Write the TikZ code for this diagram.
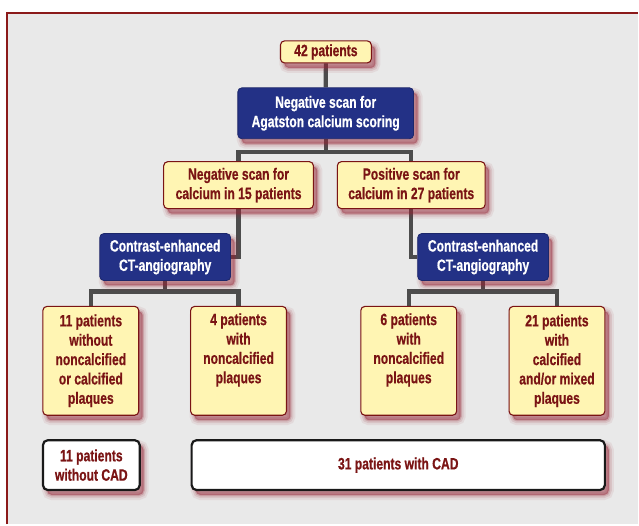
\documentclass[tikz,border=0pt]{standalone}
\usepackage{fontspec}
\setmainfont[FakeStretch=0.74, BoldFeatures={FakeBold=0.6}]{Liberation Sans}
\usetikzlibrary{shadows,calc}
\definecolor{bgc}{HTML}{E9E9E9}
\definecolor{framec}{HTML}{8B1A1A}
\definecolor{ylw}{HTML}{FFF5B3}
\definecolor{txtred}{HTML}{7A1414}
\definecolor{navy}{HTML}{233186}
\definecolor{conc}{HTML}{4C4C4C}
\definecolor{shc}{HTML}{952535}
\pgfdeclarelayer{bottom}
\pgfdeclarelayer{background}
\pgfsetlayers{bottom,background,main}
\tikzset{
  shd/.style={
    general shadow={shadow xshift=4pt, shadow yshift=-5pt, draw=shc, fill=none, line width=10pt, draw opacity=0.08},
    general shadow={shadow xshift=4pt, shadow yshift=-5pt, draw=shc, fill=none, line width=6pt, draw opacity=0.12},
    general shadow={shadow xshift=4pt, shadow yshift=-5pt, draw=shc, line width=2.5pt, draw opacity=0.2, fill=shc, fill opacity=0.45}
  },
  boxtext/.style={font=\fontsize{16.4}{19.4}\selectfont\bfseries, align=center, inner sep=0pt},
  ybox/.style={boxtext, shd, rounded corners=4pt, draw=txtred, line width=1.1pt, fill=ylw, text=txtred},
  bbox/.style={boxtext, shd, rounded corners=4pt, draw=navy!80!black, line width=0.8pt, fill=navy, text=white},
  wbox/.style={boxtext, shd, rounded corners=5pt, draw=black!90, line width=2.2pt, fill=white, text=txtred},
  leaf/.style={ybox, minimum width=96pt, minimum height=109pt},
  conn/.style={draw=conc, line width=4.2pt}
}
\begin{document}
\begin{tikzpicture}[x=1pt,y=-1pt]
\begin{pgfonlayer}{bottom}
  \fill[white] (0,0) rectangle (639,525);
  \fill[bgc] (7,13) rectangle (639,525);
  \draw[framec, line width=2.4pt] (7,525) -- (7,13) -- (639,13);
\end{pgfonlayer}
\useasboundingbox (0,0) rectangle (639,525);

\node[ybox, minimum width=91pt, minimum height=22pt] (n42) at (326.5,52) {42 patients};
\node[bbox, minimum width=176pt, minimum height=51pt] (scan) at (326.3,113.5) {Negative scan for\\Agatston calcium scoring};
\node[ybox, minimum width=150pt, minimum height=47pt] (neg) at (239,185.5) {Negative scan for\\calcium in 15 patients};
\node[ybox, minimum width=148pt, minimum height=47pt] (pos) at (412,185.5) {Positive scan for\\calcium in 27 patients};
\node[bbox, minimum width=131pt, minimum height=47pt] (ctL) at (165.5,257.5) {Contrast-enhanced\\CT-angiography};
\node[bbox, minimum width=131pt, minimum height=47pt] (ctR) at (484,257.5) {Contrast-enhanced\\CT-angiography};
\node[leaf] (L1) at (91,361.5) {11 patients\\without\\noncalcified\\or calcified\\plaques};
\node[leaf] (L2) at (239,361.5) {4 patients\\with\\noncalcified\\plaques\\\strut};
\node[leaf] (R1) at (409.5,361.5) {6 patients\\with\\noncalcified\\plaques\\\strut};
\node[leaf] (R2) at (558,361.5) {21 patients\\with\\calcified\\and/or mixed\\plaques};
\node[wbox, minimum width=97pt, minimum height=50pt] (B1) at (91.5,466) {11 patients\\without CAD};
\node[wbox, minimum width=414pt, minimum height=50pt] (B2) at (399,466) {31 patients with CAD};

\coordinate (j1) at (326.3,152);
\coordinate (j2) at (165.5,292);
\coordinate (j3) at (484,292);

\begin{pgfonlayer}{background}
  \draw[conn] (n42.south) -- (scan.north);
  \draw[conn] (scan.south) -- (j1);
  \draw[conn] (neg.north) |- (j1) -| (pos.north);
  \draw[conn] (neg.south) |- (ctL.east);
  \draw[conn] (pos.south) |- (ctR.west);
  \draw[conn] (ctL.south) -- (j2);
  \draw[conn] (L1.north) |- (j2) -| (L2.north);
  \draw[conn] (ctR.south) -- (j3);
  \draw[conn] (R1.north) |- (j3) -| (R2.north);
\end{pgfonlayer}
\end{tikzpicture}
\end{document}
